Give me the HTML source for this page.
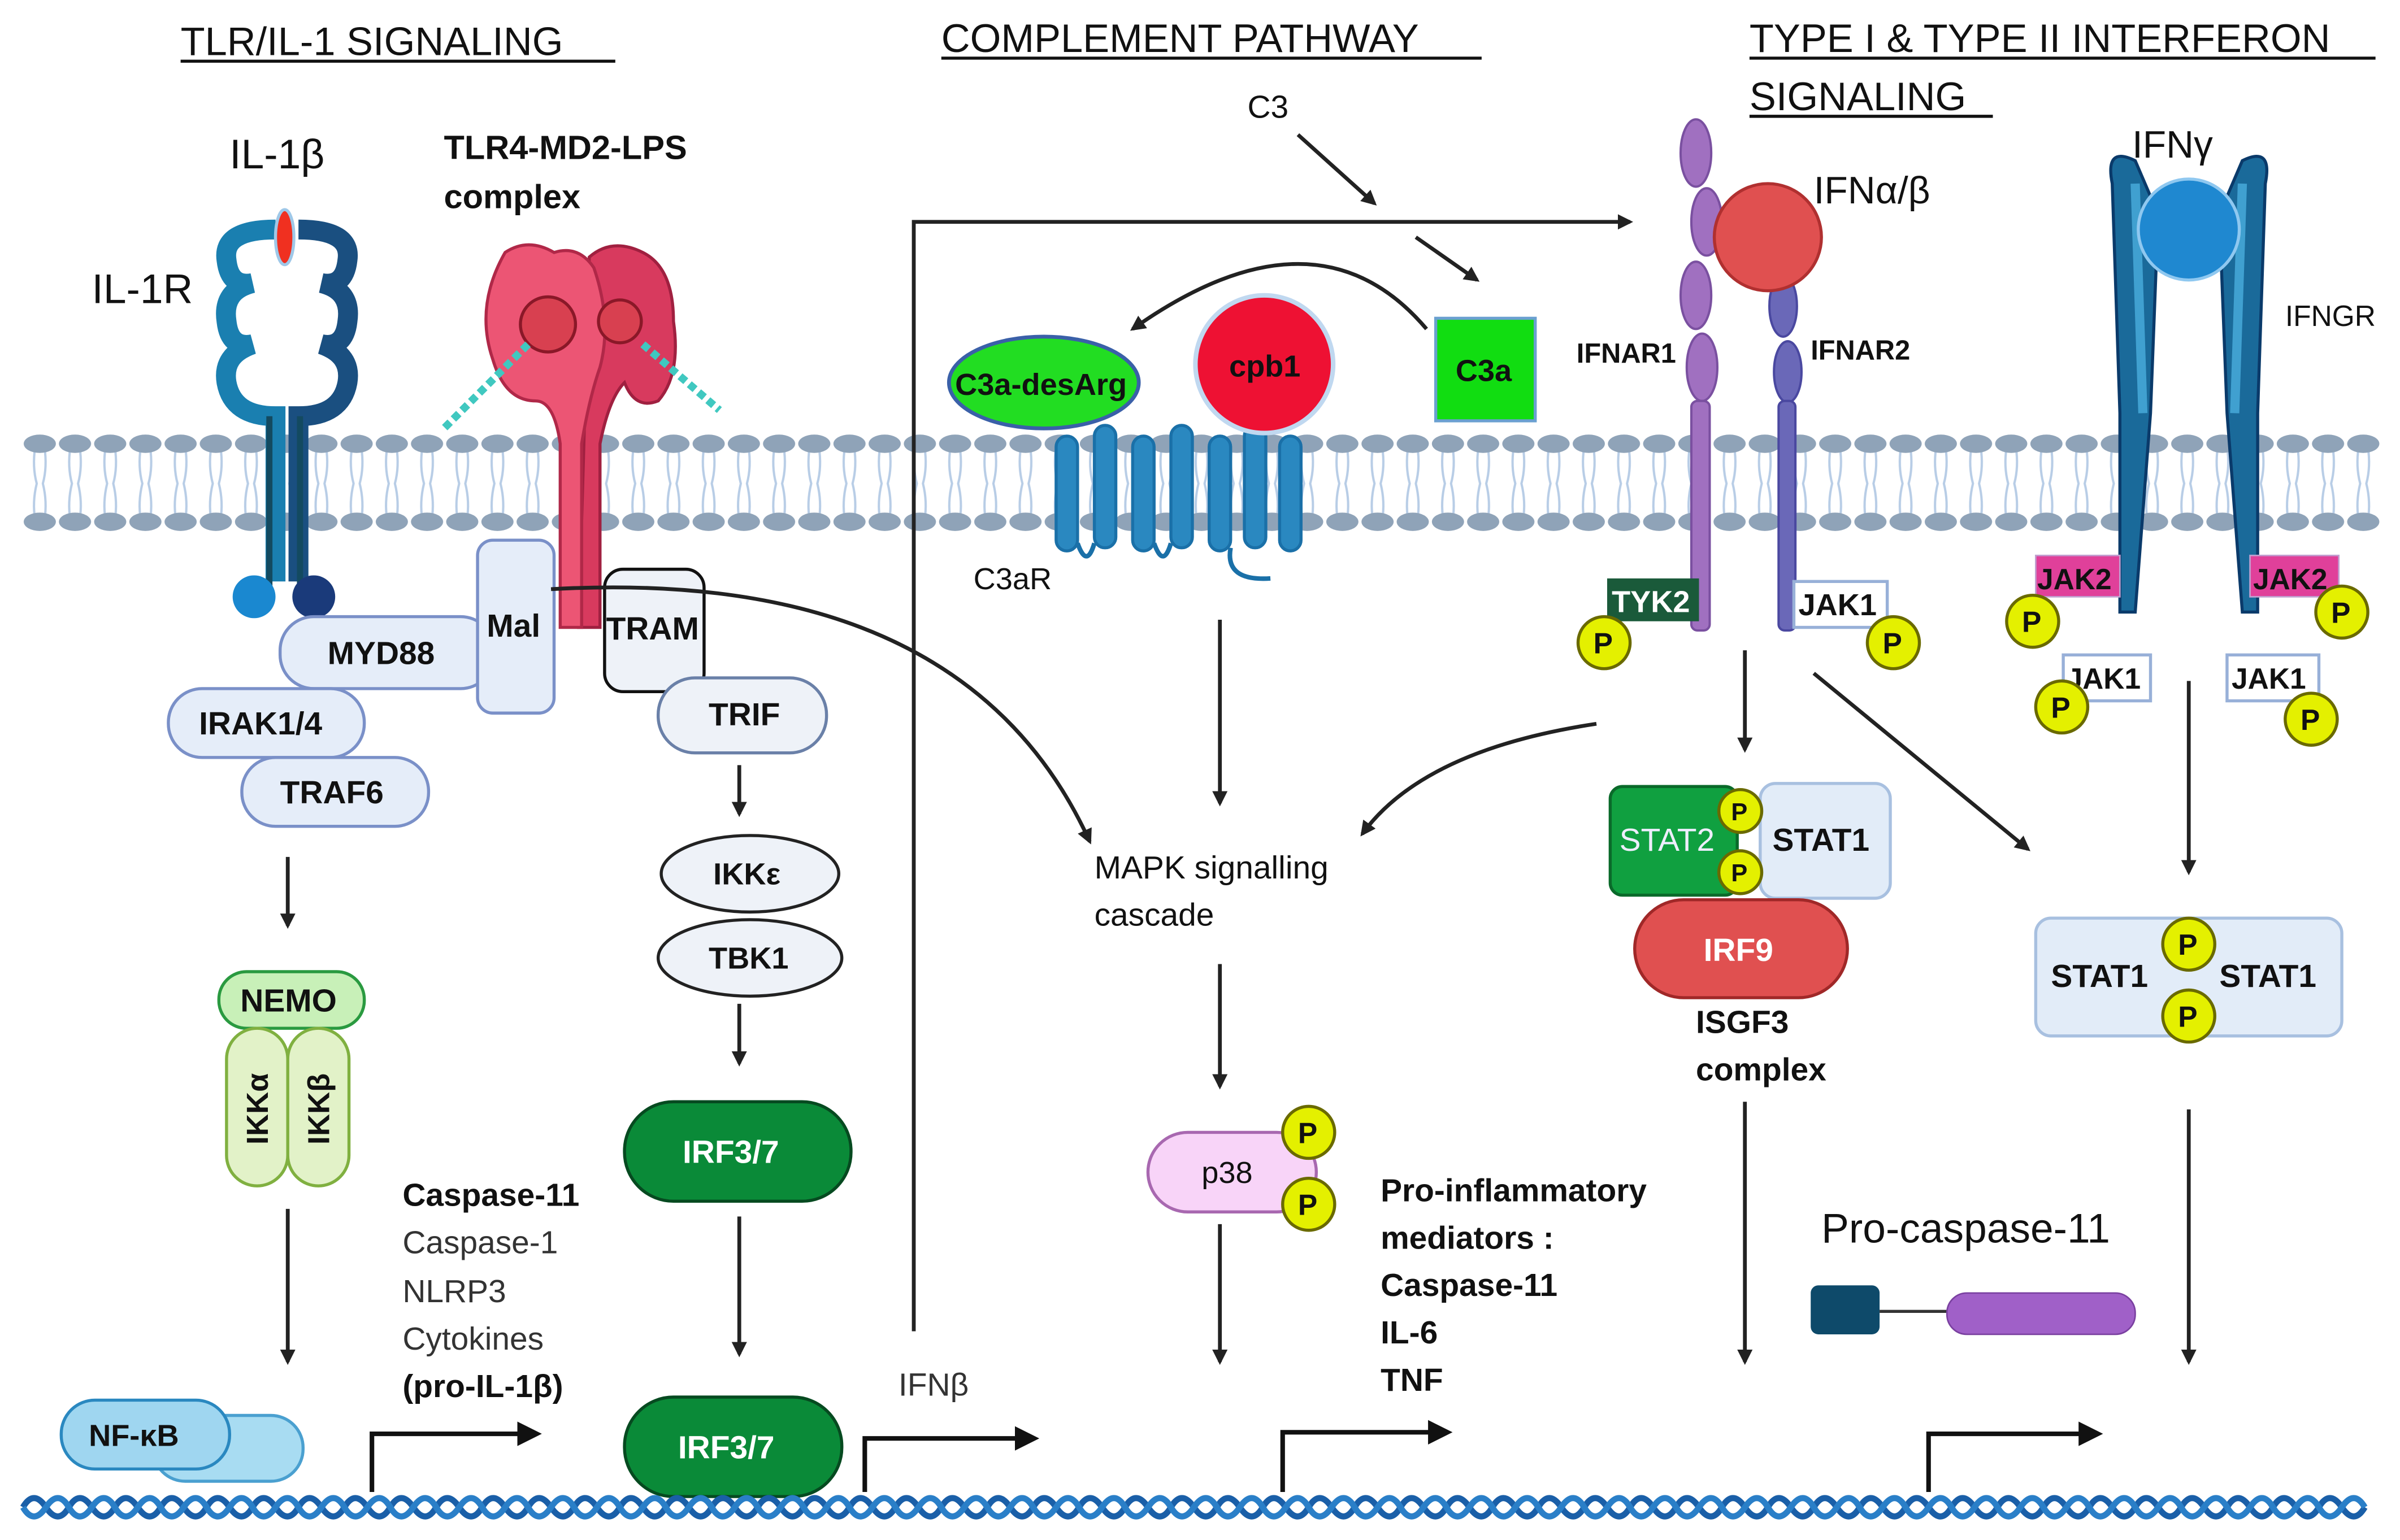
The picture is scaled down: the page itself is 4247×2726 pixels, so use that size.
<!DOCTYPE html>
<html><head><meta charset="utf-8"><style>
html,body{margin:0;padding:0;background:#fff}
svg{display:block}
text{font-family:"Liberation Sans",sans-serif;font-weight:bold;fill:#111}
</style></head><body>
<svg width="4247" height="2726" viewBox="0 0 1568 1006.4" preserveAspectRatio="none" xmlns="http://www.w3.org/2000/svg">
<defs>
<pattern id="mem" x="15" y="0" width="23" height="1006.4" patternUnits="userSpaceOnUse">
<path d="M8 292 Q6 305 9 316 Q6 328 8 340 M14 292 Q16 305 13 316 Q16 328 14 340" stroke="#b8cde6" stroke-width="1.5" fill="none"/>
<ellipse cx="11" cy="290" rx="10.5" ry="6" fill="#8fa3b8"/>
<ellipse cx="11" cy="341" rx="10.5" ry="6" fill="#8fa3b8"/>
</pattern>
<marker id="ar" markerWidth="10" markerHeight="10" refX="8" refY="5" orient="auto" markerUnits="userSpaceOnUse"><path d="M0,0 L10,5 L0,10 z" fill="#222"/></marker>
<marker id="ar2" markerWidth="16" markerHeight="16" refX="12" refY="8" orient="auto" markerUnits="userSpaceOnUse"><path d="M0,0 L16,8 L0,16 z" fill="#111"/></marker>
</defs>
<rect width="1568" height="1006.4" fill="#fff"/>
<g font-size="26" style="font-weight:normal">
<text x="118" y="36" style="font-weight:normal">TLR/IL-1 SIGNALING</text>
<line x1="118" y1="40" x2="402" y2="40" stroke="#111" stroke-width="2"/>
<text x="615" y="34" style="font-weight:normal">COMPLEMENT PATHWAY</text>
<line x1="615" y1="38" x2="968" y2="38" stroke="#111" stroke-width="2"/>
<text x="1143" y="34" style="font-weight:normal">TYPE I &amp; TYPE II INTERFERON</text>
<line x1="1143" y1="38" x2="1552" y2="38" stroke="#111" stroke-width="2"/>
<text x="1143" y="72" style="font-weight:normal">SIGNALING</text>
<line x1="1143" y1="76" x2="1302" y2="76" stroke="#111" stroke-width="2"/>
</g>
<rect x="15" y="280" width="1540" height="70" fill="url(#mem)"/>
<g fill="none" stroke-width="13">
<path d="M180 150 Q145 150 148 170 Q150 188 165 185 Q145 190 148 210 Q150 228 165 225 Q145 232 148 250 Q152 272 180 272 L180 380" stroke="#1a7fb0"/>
<path d="M195 150 Q230 150 227 170 Q225 188 210 185 Q230 190 227 210 Q225 228 210 225 Q230 232 227 250 Q223 272 195 272 L195 380" stroke="#1a4f80"/>
</g>
<path d="M176 272 L176 390 M196 272 L196 390" stroke="#134a60" stroke-width="4"/>
<ellipse cx="186" cy="155" rx="6" ry="18" fill="#f03020" stroke="#9fc8e8" stroke-width="2"/>
<circle cx="166" cy="390" r="14" fill="#1a88d0"/><circle cx="205" cy="390" r="14" fill="#1a3a7a"/>
<text x="150" y="110" font-size="27" style="font-weight:normal">IL-1β</text>
<text x="60" y="198" font-size="27" style="font-weight:normal">IL-1R</text>
<text x="290" y="104" font-size="22">TLR4-MD2-LPS</text>
<text x="290" y="136" font-size="22">complex</text>
<path d="M385 168 Q400 155 420 165 Q440 175 440 210 Q445 245 430 262 Q415 268 408 250 Q398 260 392 290 L392 410 L378 410 Z" fill="#d83a5e" stroke="#a02040" stroke-width="2"/>
<path d="M330 165 Q345 155 362 165 Q378 160 388 175 Q400 210 392 240 Q385 260 380 290 L380 410 L366 410 L366 290 Q362 262 350 262 Q330 262 322 235 Q310 200 330 165 z" fill="#ec5574" stroke="#b02848" stroke-width="2"/>
<circle cx="358" cy="212" r="18" fill="#d84050" stroke="#8a1828" stroke-width="2"/>
<circle cx="405" cy="210" r="14" fill="#d84050" stroke="#8a1828" stroke-width="2"/>
<path d="M345 225 L290 280 M420 225 L470 268" stroke="#40c8c0" stroke-width="5" stroke-dasharray="5 3"/>
<rect x="183" y="403" width="140" height="47" rx="22" fill="#e5edf9" stroke="#7a90c8" stroke-width="2"/>
<text x="214" y="434" font-size="21">MYD88</text>
<rect x="312" y="353" width="50" height="113" rx="10" fill="#e5edf9" stroke="#7a90c8" stroke-width="2"/>
<text x="318" y="416" font-size="21">Mal</text>
<rect x="395" y="372" width="65" height="80" rx="12" fill="#eef2f8" stroke="#111" stroke-width="2"/>
<text x="396" y="418" font-size="21">TRAM</text>
<rect x="430" y="443" width="110" height="49" rx="24" fill="#eef2f8" stroke="#6a80a8" stroke-width="2"/>
<text x="463" y="474" font-size="21">TRIF</text>
<rect x="110" y="450" width="128" height="45" rx="22" fill="#e5edf9" stroke="#7a90c8" stroke-width="2"/>
<text x="130" y="480" font-size="21">IRAK1/4</text>
<rect x="158" y="495" width="122" height="45" rx="22" fill="#e5edf9" stroke="#7a90c8" stroke-width="2"/>
<text x="183" y="525" font-size="21">TRAF6</text>
<path d="M360 385 Q630 370 712 550" fill="none" stroke="#222" stroke-width="2.5" marker-end="url(#ar)"/>
<line x1="188" y1="560" x2="188" y2="605" stroke="#222" stroke-width="2.5" marker-end="url(#ar)"/>
<rect x="143" y="635" width="95" height="37" rx="18" fill="#c8f0b8" stroke="#2a9a40" stroke-width="2"/>
<text x="157" y="661" font-size="21">NEMO</text>
<rect x="148" y="672" width="40" height="103" rx="20" fill="#e2f2c8" stroke="#80b040" stroke-width="2"/>
<rect x="188" y="672" width="40" height="103" rx="20" fill="#e2f2c8" stroke="#80b040" stroke-width="2"/>
<text transform="translate(175,748) rotate(-90)" font-size="20">IKKα</text>
<text transform="translate(215,748) rotate(-90)" font-size="20">IKKβ</text>
<line x1="188" y1="790" x2="188" y2="890" stroke="#222" stroke-width="2.5" marker-end="url(#ar)"/>
<rect x="100" y="925" width="98" height="43" rx="21" fill="#a8dcf2" stroke="#4aa0d0" stroke-width="2"/>
<rect x="40" y="915" width="110" height="45" rx="22" fill="#9fd6f0" stroke="#2a88c0" stroke-width="2"/>
<text x="58" y="945" font-size="20">NF-κB</text>
<text x="263" y="788" font-size="21">Caspase-11</text>
<g font-size="21" style="font-weight:normal"><text x="263" y="819" style="font-weight:normal;fill:#333">Caspase-1</text><text x="263" y="851" style="font-weight:normal;fill:#333">NLRP3</text><text x="263" y="882" style="font-weight:normal;fill:#333">Cytokines</text></g>
<text x="263" y="913" font-size="21">(pro-IL-1β)</text>
<line x1="483" y1="500" x2="483" y2="532" stroke="#222" stroke-width="2.5" marker-end="url(#ar)"/>
<ellipse cx="490" cy="571" rx="58" ry="25" fill="#eef2f8" stroke="#222" stroke-width="2"/>
<text x="466" y="578" font-size="20">IKKε</text>
<ellipse cx="490" cy="626" rx="60" ry="25" fill="#eef2f8" stroke="#222" stroke-width="2"/>
<text x="463" y="633" font-size="20">TBK1</text>
<line x1="483" y1="656" x2="483" y2="695" stroke="#222" stroke-width="2.5" marker-end="url(#ar)"/>
<rect x="408" y="720" width="148" height="65" rx="32" fill="#0a8a38" stroke="#064a20" stroke-width="2"/>
<text x="446" y="760" font-size="21" style="fill:#fff">IRF3/7</text>
<line x1="483" y1="795" x2="483" y2="885" stroke="#222" stroke-width="2.5" marker-end="url(#ar)"/>
<rect x="408" y="913" width="142" height="65" rx="32" fill="#0a8a38" stroke="#064a20" stroke-width="2"/>
<text x="443" y="953" font-size="21" style="fill:#fff">IRF3/7</text>
<text x="587" y="912" font-size="21" style="font-weight:normal;fill:#333">IFNβ</text>
<polyline points="597,870 597,145 1065,145" fill="none" stroke="#222" stroke-width="2.5" marker-end="url(#ar)"/>
<text x="815" y="77" font-size="21" style="font-weight:normal">C3</text>
<line x1="848" y1="88" x2="898" y2="133" stroke="#222" stroke-width="2.5" marker-end="url(#ar)"/>
<line x1="925" y1="155" x2="965" y2="183" stroke="#222" stroke-width="2.5" marker-end="url(#ar)"/>
<path d="M932 215 Q860 130 740 215" fill="none" stroke="#222" stroke-width="2.5" marker-end="url(#ar)"/>
<g stroke="#1a70a8" stroke-width="2" fill="#2a88c0">
<rect x="690" y="285" width="14" height="75" rx="7"/><rect x="715" y="278" width="14" height="80" rx="7"/><rect x="740" y="285" width="14" height="75" rx="7"/><rect x="765" y="278" width="14" height="80" rx="7"/><rect x="790" y="285" width="14" height="75" rx="7"/><rect x="813" y="278" width="14" height="80" rx="7"/><rect x="836" y="285" width="14" height="75" rx="7"/>
</g>
<path d="M704 355 Q710 372 715 355 M754 355 Q760 372 765 355 M804 358 Q800 380 830 378" fill="none" stroke="#1a70a8" stroke-width="3"/>
<ellipse cx="682" cy="250" rx="62" ry="30" fill="#22dd22" stroke="#3a60a8" stroke-width="2.5"/>
<text x="624" y="258" font-size="20">C3a-desArg</text>
<circle cx="826" cy="238" r="45" fill="#ee1133" stroke="#c0d8f0" stroke-width="3"/>
<text x="803" y="246" font-size="20">cpb1</text>
<rect x="938" y="208" width="65" height="67" fill="#11dd11" stroke="#6aa0d0" stroke-width="2"/>
<text x="951" y="249" font-size="20">C3a</text>
<text x="636" y="385" font-size="20" style="font-weight:normal">C3aR</text>
<line x1="797" y1="405" x2="797" y2="525" stroke="#222" stroke-width="2.5" marker-end="url(#ar)"/>
<text x="715" y="574" font-size="21" style="font-weight:normal">MAPK signalling</text>
<text x="715" y="605" font-size="21" style="font-weight:normal">cascade</text>
<line x1="797" y1="630" x2="797" y2="710" stroke="#222" stroke-width="2.5" marker-end="url(#ar)"/>
<rect x="750" y="740" width="110" height="52" rx="26" fill="#f8d4f8" stroke="#a868b0" stroke-width="2"/>
<text x="785" y="773" font-size="20" style="font-weight:normal">p38</text>
<line x1="797" y1="800" x2="797" y2="890" stroke="#222" stroke-width="2.5" marker-end="url(#ar)"/>
<text x="902" y="785" font-size="21">Pro-inflammatory</text>
<text x="902" y="816" font-size="21">mediators :</text>
<text x="902" y="847" font-size="21">Caspase-11</text>
<text x="902" y="878" font-size="21">IL-6</text>
<text x="902" y="909" font-size="21">TNF</text>
<g fill="#a070c0" stroke="#7a50a0" stroke-width="1.5">
<ellipse cx="1108" cy="100" rx="10" ry="22"/><ellipse cx="1115" cy="145" rx="10" ry="22"/><ellipse cx="1108" cy="193" rx="10" ry="22"/><ellipse cx="1112" cy="240" rx="10" ry="22"/>
<rect x="1105" y="262" width="12" height="150" rx="4"/>
</g>
<g fill="#6a68b8" stroke="#4a48a0" stroke-width="1.5">
<ellipse cx="1165" cy="200" rx="9" ry="20"/><ellipse cx="1168" cy="243" rx="9" ry="20"/>
<rect x="1162" y="262" width="11" height="150" rx="4"/>
</g>
<circle cx="1155" cy="155" r="35" fill="#e05050" stroke="#b03030" stroke-width="2"/>
<text x="1185" y="133" font-size="25" style="font-weight:normal">IFNα/β</text>
<text x="1030" y="237" font-size="18">IFNAR1</text>
<text x="1183" y="235" font-size="18">IFNAR2</text>
<rect x="1050" y="378" width="60" height="28" fill="#1a5a3a"/>
<text x="1053" y="400" font-size="20" style="fill:#fff">TYK2</text>
<rect x="1172" y="380" width="61" height="30" fill="#fff" stroke="#98b0d8" stroke-width="2"/>
<text x="1175" y="402" font-size="20">JAK1</text>
<line x1="1140" y1="425" x2="1140" y2="490" stroke="#222" stroke-width="2.5" marker-end="url(#ar)"/>
<line x1="1185" y1="440" x2="1325" y2="555" stroke="#222" stroke-width="2.5" marker-end="url(#ar)"/>
<path d="M1043 473 Q930 490 890 545" fill="none" stroke="#222" stroke-width="2.5" marker-end="url(#ar)"/>
<rect x="1150" y="512" width="85" height="75" rx="10" fill="#e2ecf8" stroke="#a8c0e0" stroke-width="2"/>
<text x="1158" y="556" font-size="21">STAT1</text>
<rect x="1052" y="514" width="83" height="71" rx="8" fill="#10a040" stroke="#0a6a2a" stroke-width="2"/>
<text x="1058" y="556" font-size="21" style="font-weight:normal;fill:#eef">STAT2</text>
<rect x="1068" y="588" width="139" height="64" rx="32" fill="#e05050" stroke="#a02828" stroke-width="2"/>
<text x="1113" y="628" font-size="21" style="fill:#fff">IRF9</text>
<text x="1108" y="675" font-size="21">ISGF3</text>
<text x="1108" y="706" font-size="21">complex</text>
<line x1="1140" y1="720" x2="1140" y2="890" stroke="#222" stroke-width="2.5" marker-end="url(#ar)"/>
<g fill="#1a6a9a" stroke="#0a3a6a" stroke-width="2">
<path d="M1380 120 Q1375 95 1395 105 L1410 140 L1405 270 L1395 400 L1385 400 L1385 270 Z"/>
<path d="M1480 120 Q1485 95 1465 105 L1450 140 L1455 270 L1465 400 L1475 400 L1475 270 Z"/>
</g>
<path d="M1395 120 L1400 270 M1465 120 L1460 270" stroke="#40a0d0" stroke-width="6" fill="none"/>
<circle cx="1430" cy="150" r="33" fill="#1f88d0" stroke="#8fc8f0" stroke-width="2"/>
<text x="1393" y="103" font-size="25" style="font-weight:normal">IFNγ</text>
<text x="1493" y="213" font-size="19" style="font-weight:normal">IFNGR</text>
<rect x="1330" y="363" width="55" height="27" fill="#e0409a" stroke="#c0a0d0"/>
<text x="1331" y="385" font-size="19">JAK2</text>
<rect x="1470" y="363" width="58" height="27" fill="#e0409a" stroke="#c0a0d0"/>
<text x="1472" y="385" font-size="19">JAK2</text>
<rect x="1348" y="428" width="57" height="30" fill="#fff" stroke="#98b0d8" stroke-width="2"/>
<text x="1350" y="450" font-size="19">JAK1</text>
<rect x="1455" y="428" width="60" height="30" fill="#fff" stroke="#98b0d8" stroke-width="2"/>
<text x="1458" y="450" font-size="19">JAK1</text>
<line x1="1430" y1="445" x2="1430" y2="570" stroke="#222" stroke-width="2.5" marker-end="url(#ar)"/>
<rect x="1330" y="600" width="200" height="77" rx="10" fill="#e2ecf8" stroke="#a8c0e0" stroke-width="2"/>
<text x="1340" y="645" font-size="21">STAT1</text>
<text x="1450" y="645" font-size="21">STAT1</text>
<line x1="1430" y1="725" x2="1430" y2="890" stroke="#222" stroke-width="2.5" marker-end="url(#ar)"/>
<text x="1190" y="812" font-size="27" style="font-weight:normal">Pro-caspase-11</text>
<rect x="1183" y="840" width="45" height="32" rx="5" fill="#0e4a6a"/>
<line x1="1228" y1="857" x2="1275" y2="857" stroke="#333" stroke-width="2"/>
<rect x="1272" y="845" width="123" height="27" rx="13" fill="#a060c8" stroke="#7a40a0"/>
<g fill="#e4f000" stroke="#6a6a00" stroke-width="2">
<circle cx="1048" cy="420" r="17"/><circle cx="1237" cy="420" r="17"/>
<circle cx="1328" cy="406" r="17"/><circle cx="1530" cy="400" r="17"/>
<circle cx="1347" cy="462" r="17"/><circle cx="1510" cy="470" r="17"/>
<circle cx="1137" cy="530" r="14"/><circle cx="1137" cy="570" r="14"/>
<circle cx="1430" cy="617" r="17"/><circle cx="1430" cy="664" r="17"/>
<circle cx="855" cy="740" r="17"/><circle cx="855" cy="787" r="17"/>
</g>
<g font-size="19">
<text x="1041" y="427">P</text><text x="1230" y="427">P</text><text x="1321" y="413">P</text><text x="1523" y="407">P</text><text x="1340" y="469">P</text><text x="1503" y="477">P</text><text x="1131" y="536" font-size="16">P</text><text x="1131" y="576" font-size="16">P</text><text x="1423" y="624">P</text><text x="1423" y="671">P</text><text x="848" y="747">P</text><text x="848" y="794">P</text>
</g>
<g fill="none" stroke="#111" stroke-width="3">
<polyline points="243,975 243,937 350,937" marker-end="url(#ar2)"/>
<polyline points="565,975 565,940 675,940" marker-end="url(#ar2)"/>
<polyline points="838,975 838,936 945,936" marker-end="url(#ar2)"/>
<polyline points="1260,975 1260,937 1370,937" marker-end="url(#ar2)"/>
</g>
<path d="M15 985 Q22 973 30 985 T45 985 T60 985 T75 985 T90 985 T105 985 T120 985 T135 985 T150 985 T165 985 T180 985 T195 985 T210 985 T225 985 T240 985 T255 985 T270 985 T285 985 T300 985 T315 985 T330 985 T345 985 T360 985 T375 985 T390 985 T405 985 T420 985 T435 985 T450 985 T465 985 T480 985 T495 985 T510 985 T525 985 T540 985 T555 985 T570 985 T585 985 T600 985 T615 985 T630 985 T645 985 T660 985 T675 985 T690 985 T705 985 T720 985 T735 985 T750 985 T765 985 T780 985 T795 985 T810 985 T825 985 T840 985 T855 985 T870 985 T885 985 T900 985 T915 985 T930 985 T945 985 T960 985 T975 985 T990 985 T1005 985 T1020 985 T1035 985 T1050 985 T1065 985 T1080 985 T1095 985 T1110 985 T1125 985 T1140 985 T1155 985 T1170 985 T1185 985 T1200 985 T1215 985 T1230 985 T1245 985 T1260 985 T1275 985 T1290 985 T1305 985 T1320 985 T1335 985 T1350 985 T1365 985 T1380 985 T1395 985 T1410 985 T1425 985 T1440 985 T1455 985 T1470 985 T1485 985 T1500 985 T1515 985 T1530 985 T1545 985" fill="none" stroke="#1a5fa8" stroke-width="4"/>
<path d="M15 985 Q22 997 30 985 T45 985 T60 985 T75 985 T90 985 T105 985 T120 985 T135 985 T150 985 T165 985 T180 985 T195 985 T210 985 T225 985 T240 985 T255 985 T270 985 T285 985 T300 985 T315 985 T330 985 T345 985 T360 985 T375 985 T390 985 T405 985 T420 985 T435 985 T450 985 T465 985 T480 985 T495 985 T510 985 T525 985 T540 985 T555 985 T570 985 T585 985 T600 985 T615 985 T630 985 T645 985 T660 985 T675 985 T690 985 T705 985 T720 985 T735 985 T750 985 T765 985 T780 985 T795 985 T810 985 T825 985 T840 985 T855 985 T870 985 T885 985 T900 985 T915 985 T930 985 T945 985 T960 985 T975 985 T990 985 T1005 985 T1020 985 T1035 985 T1050 985 T1065 985 T1080 985 T1095 985 T1110 985 T1125 985 T1140 985 T1155 985 T1170 985 T1185 985 T1200 985 T1215 985 T1230 985 T1245 985 T1260 985 T1275 985 T1290 985 T1305 985 T1320 985 T1335 985 T1350 985 T1365 985 T1380 985 T1395 985 T1410 985 T1425 985 T1440 985 T1455 985 T1470 985 T1485 985 T1500 985 T1515 985 T1530 985 T1545 985" fill="none" stroke="#2a7fc8" stroke-width="4"/>
</svg>
</body></html>
